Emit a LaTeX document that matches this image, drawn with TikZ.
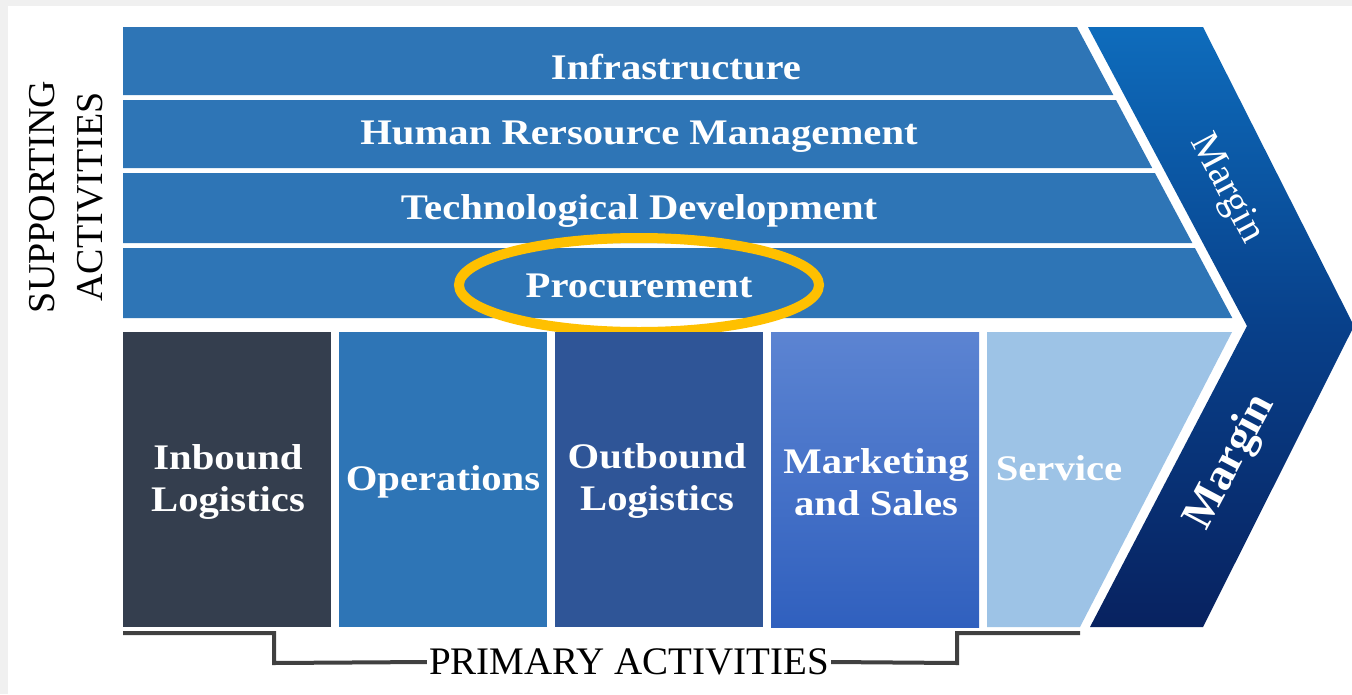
\documentclass[tikz,border=0pt]{standalone}
\usepackage{fontspec}
\setmainfont{Liberation Serif}
\newfontfamily\widefont{Liberation Serif}[FakeStretch=1.13]
\definecolor{barblue}{RGB}{46,117,182}
\definecolor{inbound}{RGB}{52,62,78}
\definecolor{opblue}{RGB}{46,117,182}
\definecolor{outblue}{RGB}{47,85,151}
\definecolor{mktop}{RGB}{92,132,210}
\definecolor{mkbot}{RGB}{48,96,190}
\definecolor{svc}{RGB}{157,195,230}
\definecolor{chtop}{RGB}{14,108,188}
\definecolor{chmid}{RGB}{8,64,138}
\definecolor{chbot}{RGB}{8,34,96}
\definecolor{ringc}{RGB}{255,192,0}
\definecolor{brk}{RGB}{64,64,64}
\tikzset{
  bartext/.style={text=white,font=\widefont\fontsize{36}{38}\selectfont\bfseries,align=center},
  boxtext/.style={text=white,font=\widefont\fontsize{36}{42}\selectfont\bfseries,align=center},
  lbl/.style={text=black,font=\fontsize{38}{48}\selectfont,align=center},
  bracket/.style={draw=brk,line width=4pt,line join=miter},
}
\begin{document}
\begin{tikzpicture}[x=1pt,y=-1pt]
\useasboundingbox (0,0) rectangle (1352,694);
\fill[gray!12] (0,0) rectangle (1352,694);
\fill[white] (8,6) rectangle (1352,694);
% supporting bars
\fill[barblue] (123,27) -- (1077,27) -- (1113.3,95) -- (123,95) -- cycle;
\fill[barblue] (123,100) -- (1116.0,100) -- (1152.2,168) -- (123,168) -- cycle;
\fill[barblue] (123,173) -- (1154.9,173) -- (1192.3,243) -- (123,243) -- cycle;
\fill[barblue] (123,248) -- (1194.9,248) -- (1232.3,318) -- (123,318) -- cycle;
\node[bartext] (infra) at (676,67) {Infrastructure};
\node[bartext] (hrm) at (639,137) {Human Rersource Management};
\node[bartext] (tech) at (639,211) {Technological Development};
\node[bartext] (proc) at (639,286) {Procurement};
\draw[ringc,line width=10pt] (639,285) ellipse [x radius=180, y radius=47];
% primary boxes
\fill[inbound] (123,332) rectangle (331,627);
\fill[opblue] (339,332) rectangle (547,627);
\fill[outblue] (555,332) rectangle (763,627);
\shade[top color=mktop,bottom color=mkbot] (771,332) rectangle (979,627);
\fill[svc] (987,332) -- (1232,332) -- (1080,627) -- (987,627) -- cycle;
\node[boxtext] (inb) at (228,482) {Inbound\\Logistics};
\node[boxtext] (ops) at (443,482) {Operations};
\node[boxtext] (outb) at (657,481) {Outbound\\Logistics};
\node[boxtext] (mkt) at (876,482) {Marketing\\and Sales};
\node[boxtext] (svcn) at (1059,468) {Service};
% margin chevron
\shade[top color=chtop,bottom color=chbot,middle color=chmid]
  (1088,27) -- (1203,27) -- (1354,326) -- (1203,627) -- (1090,627) -- (1247,326) -- cycle;
\node[text=white,font=\fontsize{40}{40}\selectfont,rotate=-62,inner sep=0pt] (m1) at (1226,189) {Margin};
\node[text=white,font=\fontsize{45}{45}\selectfont\bfseries,rotate=62,inner sep=0pt] (m2) at (1231,462) {Margin};
% labels
\node[lbl,rotate=90] (sup) at (66,197) {SUPPORTING\\ACTIVITIES};
\node[lbl,fill=white,inner xsep=2pt,inner ysep=0pt,font=\fontsize{39}{39}\selectfont] (prim) at (629,662) {PRIMARY ACTIVITIES};
\coordinate (bl) at (123,633);
\coordinate (br) at (1080,633);
\draw[bracket] (bl) -- (274,633) -- (274,663) -- (prim.west);
\draw[bracket] (prim.east) -- (957,663) -- (957,633) -- (br);
\end{tikzpicture}
\end{document}
